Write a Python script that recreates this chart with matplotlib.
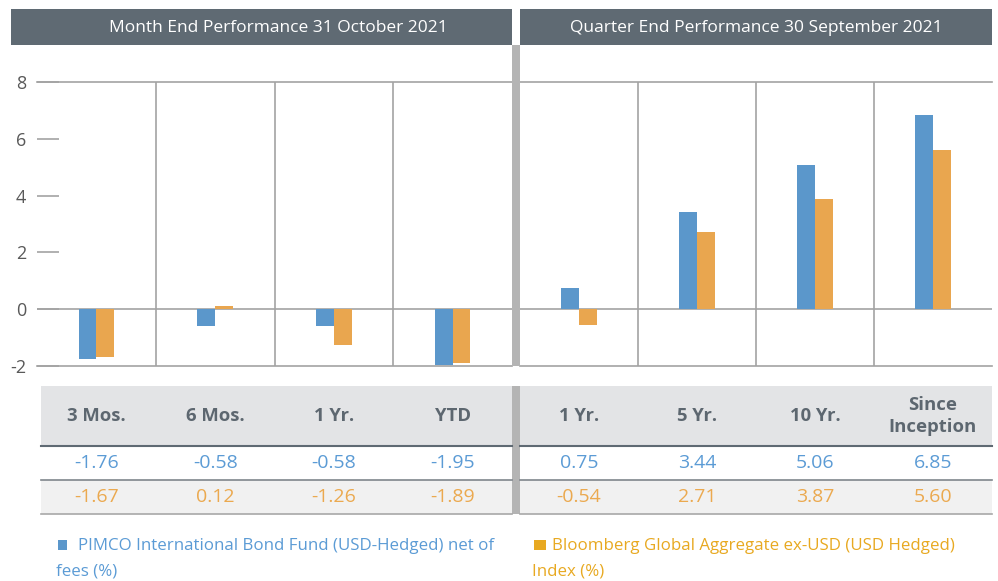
import matplotlib
matplotlib.use("Agg")
import matplotlib.pyplot as plt
from matplotlib.patches import Rectangle
import numpy as np

plt.rcParams['font.family'] = ['Open Sans', 'DejaVu Sans']
plt.rcParams['axes.unicode_minus'] = False

# ---- data ----
month_title = "Month End Performance 31 October 2021"
quarter_title = "Quarter End Performance 30 September 2021"
month_cats = ["3 Mos.", "6 Mos.", "1 Yr.", "YTD"]
quarter_cats = ["1 Yr.", "5 Yr.", "10 Yr.", "Since\nInception"]
fund_month = [-1.76, -0.58, -0.58, -1.95]
index_month = [-1.67, 0.12, -1.26, -1.89]
fund_quarter = [0.75, 3.44, 5.06, 6.85]
index_quarter = [-0.54, 2.71, 3.87, 5.60]
fund_name = "PIMCO International Bond Fund (USD-Hedged) net of"
fund_name2 = "fees (%)"
index_name = "Bloomberg Global Aggregate ex-USD (USD Hedged)"
index_name2 = "Index (%)"
yticks = [-2, 0, 2, 4, 6, 8]

# ---- style ----
W, H = 998, 581
BLUE = "#5b97cb"
ORANGE = "#e9a64f"
BLUE_TXT = "#5b9bd5"
ORANGE_TXT = "#eba94f"
ORANGE_LEG = "#e8a921"
HEAD = "#5f6a73"
GRID = "#a3a3a3"
SEP = "#b4b4b4"
LABEL = "#5d6770"

fig = plt.figure(figsize=(W / 100, H / 100), dpi=100)


def fx(x):
    return x / W


def fy(y):
    return 1 - y / H


def rect(x0, y0, x1, y1, color, z=0):
    fig.patches.append(Rectangle((fx(x0), fy(y1)), fx(x1) - fx(x0), fy(y0) - fy(y1),
                                 transform=fig.transFigure, color=color, zorder=z, lw=0))


def hline(x0, x1, y, color, lw=1.2):
    fig.add_artist(plt.Line2D([fx(x0), fx(x1)], [fy(y), fy(y)], transform=fig.transFigure,
                              color=color, lw=lw, zorder=3))


# headers
rect(11, 9, 512, 45, HEAD)
rect(520, 9, 992, 45, HEAD)
fig.text(fx(278), fy(27.5), month_title, color="white", fontsize=12.5, ha="center", va="center")
fig.text(fx(756), fy(27.5), quarter_title, color="white", fontsize=12.5, ha="center", va="center")

# vertical separator
rect(512, 45, 520, 366, SEP, z=2)
rect(512, 386, 520, 514, SEP, z=2)

Y0, Y1 = 82, 366


def make_axes(x0, x1, fund, index, show_y):
    ax = fig.add_axes([fx(x0), fy(Y1), fx(x1) - fx(x0), fy(Y0) - fy(Y1)])
    n = len(fund)
    centers = np.arange(n) + 0.5
    bw = 0.15
    ax.bar(centers - bw / 2, fund, width=bw, color=BLUE, zorder=3)
    ax.bar(centers + bw / 2, index, width=bw, color=ORANGE, zorder=3)
    ax.set_xlim(0, n)
    ax.set_ylim(-2, 8)
    ax.axhline(0, color=GRID, lw=1.2, zorder=2)
    for k in range(1, n):
        ax.axvline(k, color=GRID, lw=1.2, zorder=2)
    for s in ["left", "right"]:
        ax.spines[s].set_visible(False)
    for s in ["top", "bottom"]:
        ax.spines[s].set_color(GRID)
        ax.spines[s].set_linewidth(1.2)
    ax.set_xticks([])
    ax.set_yticks(yticks)
    if show_y:
        ax.tick_params(axis="y", direction="in", length=16, width=1.2, color=GRID,
                       labelsize=13, labelcolor="#595959", pad=8)
    else:
        ax.tick_params(axis="y", length=0, labelleft=False)
    ax.patch.set_alpha(0)
    return ax, centers


axL, cL = make_axes(37, 512, fund_month, index_month, True)
axR, cR = make_axes(520, 992, fund_quarter, index_quarter, False)

# table
rect(41, 386, 512, 446, "#e3e4e6")
rect(520, 386, 992, 446, "#e3e4e6")
rect(41, 480, 512, 514, "#f1f1f1")
rect(520, 480, 992, 514, "#f1f1f1")
for (a, b) in [(41, 512), (520, 992)]:
    hline(a, b, 446, HEAD, 1.5)
    hline(a, b, 480, "#7f868c", 1.2)
    hline(a, b, 514, "#a8a8a8", 1.2)


def table(x0, x1, cats, fund, index):
    n = len(cats)
    w = (x1 - x0) / n
    for i in range(n):
        xc = x0 + w * (i + 0.5)
        fig.text(fx(xc), fy(416), cats[i], color=LABEL, fontsize=13.3, fontweight="bold",
                 ha="center", va="center", linespacing=1.3)
        fig.text(fx(xc), fy(463), f"{fund[i]:.2f}", color=BLUE_TXT, fontsize=14,
                 ha="center", va="center")
        fig.text(fx(xc), fy(497), f"{index[i]:.2f}", color=ORANGE_TXT, fontsize=14,
                 ha="center", va="center")


table(37, 512, month_cats, fund_month, index_month)
table(520, 992, quarter_cats, fund_quarter, index_quarter)

# legend
rect(58, 540, 67, 550, BLUE)
fig.text(fx(78), fy(546), fund_name, color=BLUE_TXT, fontsize=12.2, ha="left", va="center")
fig.text(fx(56), fy(572), fund_name2, color=BLUE_TXT, fontsize=12.2, ha="left", va="center")
rect(534, 540, 546, 550, ORANGE_LEG)
fig.text(fx(552), fy(546), index_name, color=ORANGE_LEG, fontsize=12.2, ha="left", va="center")
fig.text(fx(532), fy(572), index_name2, color=ORANGE_LEG, fontsize=12.2, ha="left", va="center")

fig.savefig("out.png", dpi=100)
